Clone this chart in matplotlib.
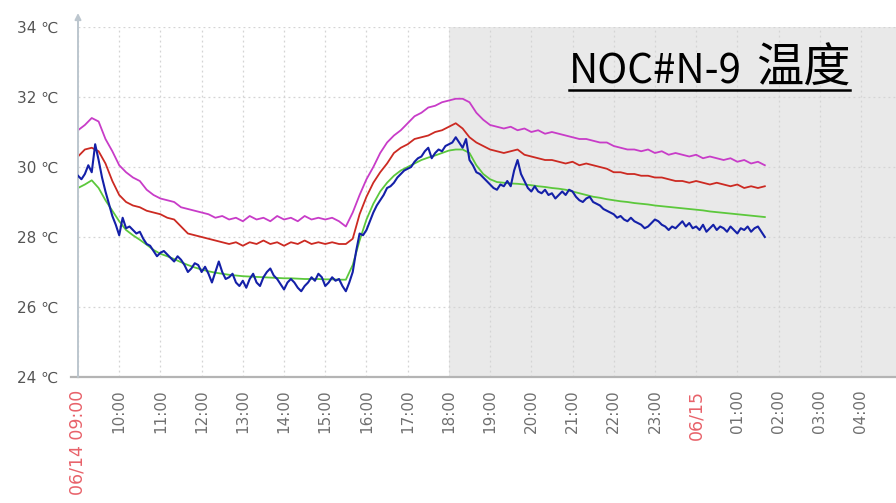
import numpy as np
import pandas as pd
import matplotlib
matplotlib.use("Agg")
import matplotlib.pyplot as plt
import matplotlib.dates as mdates
from matplotlib.lines import Line2D

#---------------------------------------
# releves de temperature, 06/14 09:00 -> 06/15 01:40

# capteurs lents : un point toutes les 10 minutes
t10 = pd.date_range("2015-06-14 09:00", periods=101, freq="10min")
# capteur rapide (bleu) : un point toutes les 5 minutes
t5 = pd.date_range("2015-06-14 09:00", periods=201, freq="5min")

magenta = [
    31.05, 31.2, 31.4, 31.3, 30.8, 30.45, 30.05, 29.85, 29.7, 29.6,
    29.35, 29.2, 29.1, 29.05, 29.0, 28.85, 28.8, 28.75, 28.7, 28.65,
    28.55, 28.6, 28.5, 28.55, 28.45, 28.6, 28.5, 28.55, 28.45, 28.6,
    28.5, 28.55, 28.45, 28.6, 28.5, 28.55, 28.5, 28.55, 28.45, 28.3,
    28.7, 29.2, 29.65, 30.0, 30.4, 30.7, 30.9, 31.05, 31.25, 31.45,
    31.55, 31.7, 31.75, 31.85, 31.9, 31.95, 31.95, 31.85, 31.55, 31.35,
    31.2, 31.15, 31.1, 31.15, 31.05, 31.1, 31.0, 31.05, 30.95, 31.0,
    30.95, 30.9, 30.85, 30.8, 30.8, 30.75, 30.7, 30.7, 30.6, 30.55,
    30.5, 30.5, 30.45, 30.5, 30.4, 30.45, 30.35, 30.4, 30.35, 30.3,
    30.35, 30.25, 30.3, 30.25, 30.2, 30.25, 30.15, 30.2, 30.1, 30.15,
    30.05,
]

rouge = [
    30.3, 30.5, 30.55, 30.45, 30.1, 29.6, 29.2, 29.0, 28.9, 28.85,
    28.75, 28.7, 28.65, 28.55, 28.5, 28.3, 28.1, 28.05, 28.0, 27.95,
    27.9, 27.85, 27.8, 27.85, 27.75, 27.85, 27.8, 27.9, 27.8, 27.85,
    27.75, 27.85, 27.8, 27.9, 27.8, 27.85, 27.8, 27.85, 27.8, 27.8,
    27.95, 28.65, 29.15, 29.55, 29.85, 30.1, 30.4, 30.55, 30.65, 30.8,
    30.85, 30.9, 31.0, 31.05, 31.15, 31.25, 31.1, 30.85, 30.7, 30.6,
    30.5, 30.45, 30.4, 30.45, 30.5, 30.35, 30.3, 30.25, 30.2, 30.2,
    30.15, 30.1, 30.15, 30.05, 30.1, 30.05, 30.0, 29.95, 29.85, 29.85,
    29.8, 29.8, 29.75, 29.75, 29.7, 29.7, 29.65, 29.6, 29.6, 29.55,
    29.6, 29.55, 29.5, 29.55, 29.5, 29.45, 29.5, 29.4, 29.45, 29.4,
    29.45,
]

vert = [
    29.4, 29.5, 29.62, 29.4, 29.05, 28.75, 28.45, 28.2, 28.05, 27.92,
    27.78, 27.63, 27.52, 27.45, 27.37, 27.28, 27.2, 27.13, 27.07, 27.02,
    26.98, 26.95, 26.92, 26.9, 26.88, 26.87, 26.86, 26.85, 26.84, 26.83,
    26.82, 26.82, 26.81, 26.8, 26.8, 26.8, 26.79, 26.79, 26.78, 26.78,
    27.2, 27.9, 28.5, 28.95, 29.3, 29.55, 29.75, 29.9, 30.0, 30.1,
    30.2, 30.27, 30.33, 30.4, 30.47, 30.5, 30.5, 30.4, 30.05, 29.8,
    29.65, 29.57, 29.55, 29.53, 29.52, 29.5, 29.48, 29.45, 29.43, 29.4,
    29.38, 29.35, 29.3, 29.25, 29.2, 29.15, 29.12, 29.08, 29.05, 29.02,
    29.0, 28.97, 28.95, 28.93, 28.9, 28.88, 28.86, 28.84, 28.82, 28.8,
    28.78, 28.76, 28.73, 28.71, 28.69, 28.67, 28.65, 28.63, 28.61, 28.59,
    28.57,
]

bleu = [
    29.75, 29.65, 29.8, 30.05, 29.85, 30.65, 30.2, 29.7, 29.3, 28.95,
    28.6, 28.35, 28.05, 28.55, 28.25, 28.3, 28.2, 28.1, 28.15, 27.95,
    27.8, 27.75, 27.6, 27.45, 27.55, 27.6, 27.5, 27.4, 27.3, 27.45,
    27.35, 27.2, 27.0, 27.1, 27.25, 27.2, 27.0, 27.15, 26.95, 26.7,
    27.0, 27.3, 27.0, 26.8, 26.85, 26.95, 26.7, 26.6, 26.75, 26.55,
    26.8, 26.95, 26.7, 26.6, 26.85, 27.0, 27.1, 26.9, 26.8, 26.65,
    26.5, 26.7, 26.8, 26.7, 26.55, 26.45, 26.6, 26.7, 26.85, 26.75,
    26.95, 26.85, 26.6, 26.7, 26.85, 26.75, 26.8, 26.6, 26.45, 26.7,
    27.0, 27.6, 28.1, 28.05, 28.2, 28.45, 28.7, 28.9, 29.05, 29.2,
    29.4, 29.45, 29.55, 29.7, 29.8, 29.9, 29.95, 30.0, 30.15, 30.25,
    30.3, 30.45, 30.55, 30.25, 30.4, 30.5, 30.45, 30.6, 30.65, 30.7,
    30.85, 30.7, 30.55, 30.8, 30.2, 30.05, 29.85, 29.8, 29.7, 29.6,
    29.5, 29.4, 29.35, 29.5, 29.45, 29.6, 29.45, 29.9, 30.2, 29.8,
    29.6, 29.4, 29.3, 29.45, 29.3, 29.25, 29.35, 29.2, 29.25, 29.1,
    29.2, 29.3, 29.2, 29.35, 29.3, 29.15, 29.05, 29.0, 29.1, 29.15,
    29.0, 28.95, 28.9, 28.8, 28.75, 28.7, 28.65, 28.55, 28.6, 28.5,
    28.45, 28.55, 28.45, 28.4, 28.35, 28.25, 28.3, 28.4, 28.5, 28.45,
    28.35, 28.3, 28.2, 28.3, 28.25, 28.35, 28.45, 28.3, 28.4, 28.25,
    28.3, 28.2, 28.35, 28.15, 28.25, 28.35, 28.2, 28.3, 28.25, 28.15,
    28.3, 28.2, 28.1, 28.25, 28.2, 28.3, 28.15, 28.25, 28.3, 28.15,
    28.0,
]

# graduations horaires
heures = pd.date_range("2015-06-14 09:00", periods=20, freq="1h")
etiquettes = ["06/14 09:00", "10:00", "11:00", "12:00", "13:00", "14:00",
              "15:00", "16:00", "17:00", "18:00", "19:00", "20:00", "21:00",
              "22:00", "23:00", "06/15", "01:00", "02:00", "03:00", "04:00"]
dates_rouges = ["06/14 09:00", "06/15"]
temperatures = [24, 26, 28, 30, 32, 34]

titre_nom = "NOC#N-9"
titre_mesure = "温度"
#---------------------------------------

fig = plt.figure(figsize=(8.96, 5.03), dpi=100)
ax = fig.add_axes([78 / 896, 1 - 377 / 503, 1 - 78 / 896, 350 / 503])

debut = pd.Timestamp("2015-06-14 09:00")
fin = debut + pd.Timedelta(hours=19.85)
ax.set_xlim(debut, fin)
ax.set_ylim(24, 34)

# zone grisee a partir de 18:00
ax.axvspan(pd.Timestamp("2015-06-14 18:00"), fin, color="#e9e9e9", lw=0, zorder=0)

# courbes
ax.plot(t10, magenta, color="#c83cc8", lw=1.3, zorder=3)
ax.plot(t10, rouge, color="#cc2a22", lw=1.3, zorder=3)
ax.plot(t10, vert, color="#5cc83c", lw=1.3, zorder=3)
ax.plot(t5, bleu, color="#1420a8", lw=1.5, zorder=4)

# axes et grille
ax.set_xticks(heures)
ax.set_xticklabels(etiquettes, rotation=90, va="top", ha="center")
for lab in ax.get_xticklabels():
    if lab.get_text() in dates_rouges:
        lab.set_color("#e8626a")
        lab.set_fontsize(12.5)
    else:
        lab.set_color("#707070")
        lab.set_fontsize(11)
ax.set_yticks(temperatures)
ax.set_yticklabels(["%d ℃" % v for v in temperatures], color="#555555", fontsize=11)
ax.tick_params(axis="both", length=0)
ax.tick_params(axis="x", pad=9)
ax.tick_params(axis="y", pad=14)

ax.grid(True, color="#d4d4d4", lw=0.9, linestyle=(0, (1.5, 2.5)), zorder=1)
ax.set_axisbelow(True)

for s in ["top", "right", "left"]:
    ax.spines[s].set_visible(False)
ax.spines["bottom"].set_color("#b4b4b4")
ax.spines["bottom"].set_linewidth(1.6)

# axe vertical avec fleche
ax.annotate("", xy=(0, 1.04), xycoords="axes fraction", xytext=(0, 0),
            textcoords="axes fraction",
            arrowprops=dict(arrowstyle="-|>", color="#bcc6ce", lw=1.4,
                            mutation_scale=9, shrinkA=0, shrinkB=0),
            annotation_clip=False)
ax.plot([-0.008, 0], [0, 0], transform=ax.transAxes, color="#b4b4b4",
        lw=1.6, clip_on=False)

# titre souligne : nom du capteur puis grandeur mesuree
W, H = fig.bbox.width, fig.bbox.height
ybase = 1 - 84 / 503
police = ["Noto Sans CJK TC", "DejaVu Sans"]
txt1 = fig.text(569 / W, ybase, titre_nom, fontsize=29, color="black",
                family=police, ha="left", va="baseline")
fig.canvas.draw()
bb1 = txt1.get_window_extent()
txt2 = fig.text((bb1.x1 + 14) / W, ybase + 1 / H, titre_mesure, fontsize=34,
                color="black", family=police, ha="left", va="baseline")
fig.canvas.draw()
bb2 = txt2.get_window_extent()
ysous = 1 - 90 / 503
fig.add_artist(Line2D([bb1.x0 / W, bb2.x1 / W], [ysous, ysous],
                      transform=fig.transFigure, color="black", lw=1.8))

fig.savefig("out.png", dpi=100)
